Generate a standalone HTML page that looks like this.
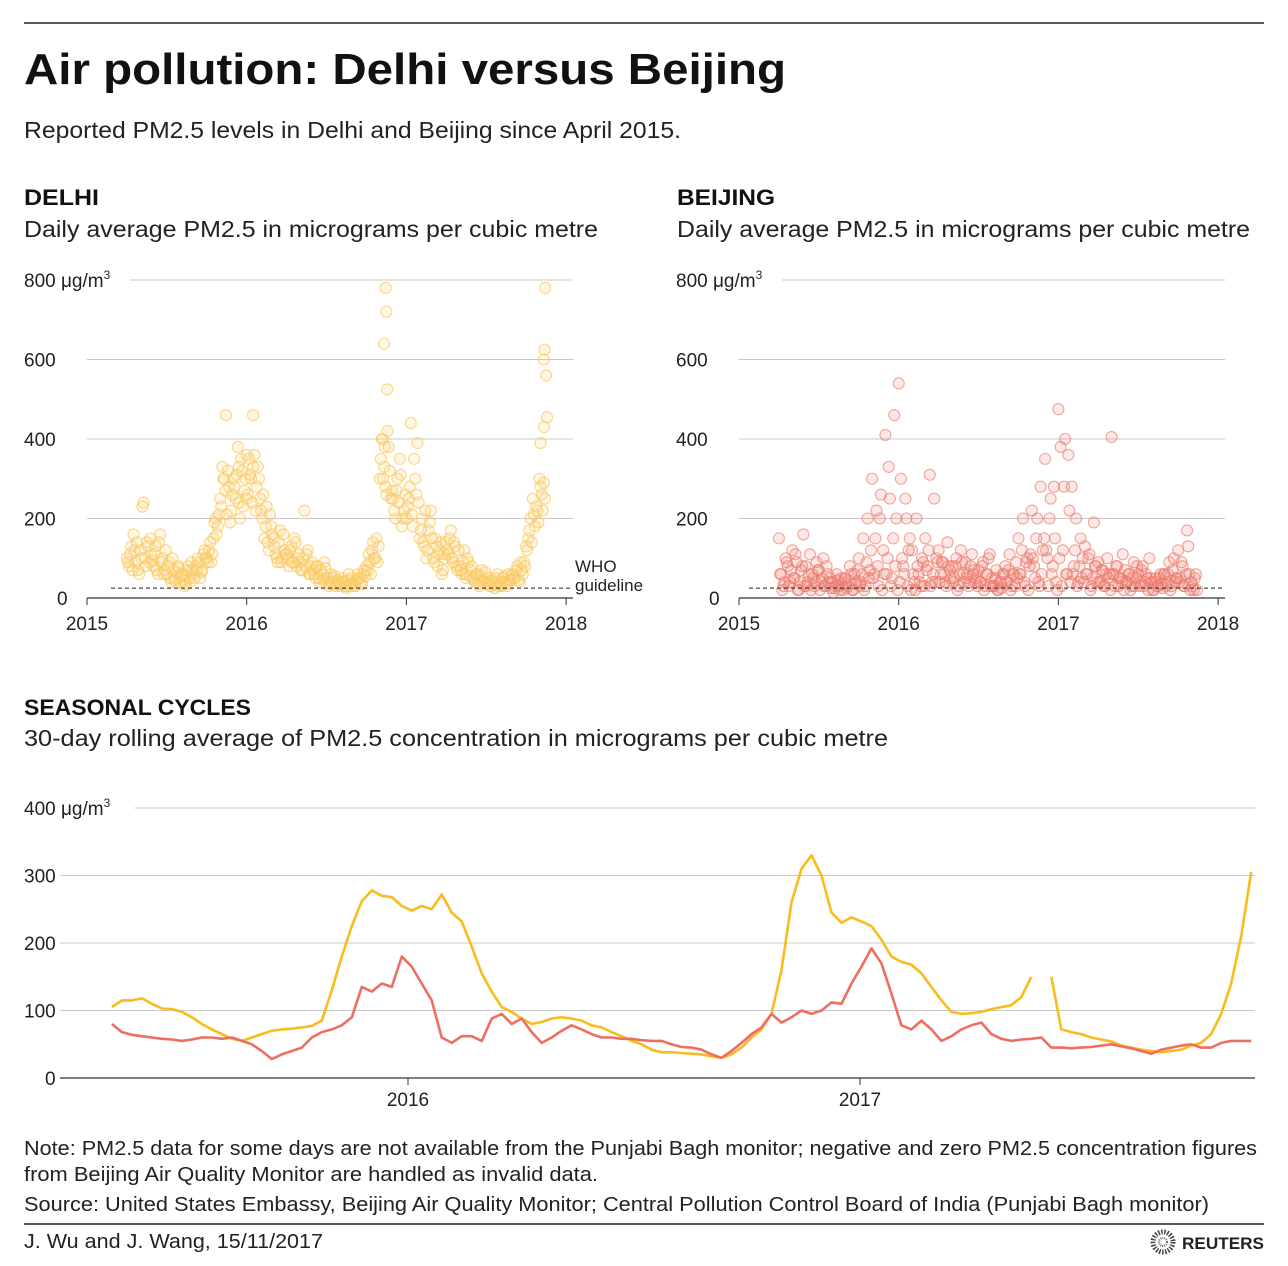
<!DOCTYPE html>
<html><head><meta charset="utf-8"><style>
html,body{margin:0;padding:0;background:#fff}
svg{display:block;font-family:"Liberation Sans",sans-serif}
</style></head><body>
<svg id="page" width="1288" height="1266" viewBox="0 0 1288 1266" xmlns="http://www.w3.org/2000/svg">
<line x1="24" y1="23" x2="1264" y2="23" stroke="#222" stroke-width="1.5"/>
<text x="24" y="84" font-size="44" font-weight="bold" fill="#111" textLength="762" lengthAdjust="spacingAndGlyphs">Air pollution: Delhi versus Beijing</text>
<text x="24" y="138" font-size="23" fill="#222" textLength="657" lengthAdjust="spacingAndGlyphs">Reported PM2.5 levels in Delhi and Beijing since April 2015.</text>

<text x="24" y="205" font-size="22" font-weight="bold" fill="#111" textLength="75" lengthAdjust="spacingAndGlyphs">DELHI</text>
<text x="24" y="237" font-size="23" fill="#222" textLength="574" lengthAdjust="spacingAndGlyphs">Daily average PM2.5 in micrograms per cubic metre</text>
<text x="677" y="205" font-size="22" font-weight="bold" fill="#111" textLength="98" lengthAdjust="spacingAndGlyphs">BEIJING</text>
<text x="677" y="237" font-size="23" fill="#222" textLength="573" lengthAdjust="spacingAndGlyphs">Daily average PM2.5 in micrograms per cubic metre</text>

<g id="delhi"></g>
<g id="beijing"></g>

<text x="24" y="715" font-size="22" font-weight="bold" fill="#111" textLength="227" lengthAdjust="spacingAndGlyphs">SEASONAL CYCLES</text>
<text x="24" y="746" font-size="23" fill="#222" textLength="864" lengthAdjust="spacingAndGlyphs">30-day rolling average of PM2.5 concentration in micrograms per cubic metre</text>
<g id="seasonal"></g>

<text x="24" y="1155" font-size="20" fill="#222" textLength="1233" lengthAdjust="spacingAndGlyphs">Note: PM2.5 data for some days are not available from the Punjabi Bagh monitor; negative and zero PM2.5 concentration figures</text>
<text x="24" y="1181" font-size="20" fill="#222" textLength="574" lengthAdjust="spacingAndGlyphs">from Beijing Air Quality Monitor are handled as invalid data.</text>
<text x="24" y="1211" font-size="20" fill="#222" textLength="1185" lengthAdjust="spacingAndGlyphs">Source: United States Embassy, Beijing Air Quality Monitor; Central Pollution Control Board of India (Punjabi Bagh monitor)</text>
<line x1="24" y1="1224" x2="1264" y2="1224" stroke="#222" stroke-width="1.5"/>
<text x="24" y="1248" font-size="20" fill="#222" textLength="299" lengthAdjust="spacingAndGlyphs">J. Wu and J. Wang,  15/11/2017</text>
<g>
<circle cx="1163" cy="1242" r="10" fill="none" stroke="#444" stroke-width="5" stroke-dasharray="1.5 1.5"/>
<circle cx="1163" cy="1242" r="4" fill="none" stroke="#666" stroke-width="2" stroke-dasharray="1 1"/>
<text x="1182" y="1249" font-size="17" font-weight="bold" fill="#222" textLength="82" lengthAdjust="spacingAndGlyphs">REUTERS</text>
</g>

<script>
// ---------- DATA ----------
const scatterStartYear = 2015.25;   // 1 April 2015
const samplesPerYear = 72;          // ~every 5 days
const delhiDaily = [
100,80,130,160,90,70, 120,230,100,140,90,110, 80,130,60,160,100,70, 60,90,40,70,50,80,
40,60,30,70,50,90, 60,80,100,50,70,120, 100,120,90,150,200,180, 250,330,300,210,280,220,
300,250,380,200,320,270, 250,350,300,330,220,330, 250,200,150,230,120,180, 150,110,90,170,100,120,
110,80,130,90,140,100, 90,70,220,110,60,80, 70,50,80,40,60,90, 40,30,60,50,30,45,
30,50,40,25,60,35, 40,30,60,50,35,70, 80,110,60,140,100,90, 300,400,330,260,380,250,
250,200,300,350,180,220, 200,250,440,180,300,390, 150,200,130,100,170,220, 100,150,80,120,60,110,
140,110,170,90,130,70, 80,60,120,50,90,70, 50,40,60,30,70,45, 35,50,30,40,25,60,
40,30,55,35,60,45, 60,50,80,40,70,90, 130,150,200,250,180,220, 300,260,290
];
const delhiDaily2 = [
90,110,70,120,140,60, 100,240,80,130,150,95, 110,70,140,90,60,120, 80,50,100,45,65,75,
55,45,35,80,40,70, 50,70,90,65,110,100, 90,140,110,190,160,210, 230,300,270,320,190,260,
280,310,240,350,230,300, 260,310,240,360,280,300, 220,260,180,140,210,160, 130,100,140,90,160,110,
100,120,90,150,80,110, 70,100,80,120,60,90, 60,80,50,70,45,75, 50,35,40,55,35,40,
35,40,30,45,30,50, 30,45,50,40,60,55, 70,90,120,100,150,130, 350,300,280,420,320,270,
220,270,240,310,200,260, 230,280,210,350,260,240, 170,140,220,120,190,150, 90,130,110,140,70,100,
120,150,100,140,80,120, 70,90,60,100,55,80, 45,60,35,55,40,65, 40,30,45,35,50,30,
35,50,40,30,45,55, 50,70,45,90,60,80, 120,170,140,210,230,190, 280,220,250
];
const delhiExtraYears = [2016.87,2016.875,2016.86,2016.88,2016.85,2016.865,2017.87,2017.865,2017.86,2017.875,2017.88,2017.862,2017.84,2016.04,2015.87,2016.0,2015.95];
const delhiExtraValues = [780,720,640,525,400,380,780,625,600,560,455,430,390,460,460,360,330];
const beijingDaily = [
150,60,30,100,80,40, 120,50,90,20,70,160, 80,40,110,60,30,90, 70,40,100,30,60,50,
40,25,60,30,50,20, 50,30,80,20,60,40, 100,40,150,30,200,70, 300,60,220,30,260,120,
410,100,250,50,460,200, 540,300,80,250,30,150, 120,40,200,60,30,90, 150,80,310,40,250,100,
120,60,90,40,140,70, 80,50,100,30,120,60, 90,60,40,110,70,50, 70,40,90,30,60,110,
50,30,70,20,40,60, 80,40,110,30,60,90, 150,60,200,30,100,80, 220,80,150,40,280,120,
350,100,200,60,280,40, 475,380,120,400,60,220, 280,80,200,40,150,100, 130,60,110,30,190,80,
90,40,70,30,100,60, 405,60,80,30,50,110, 70,40,60,30,90,50, 60,30,80,40,50,100,
40,20,50,30,60,25, 60,40,90,30,100,50, 120,50,80,30,170,60, 40,20,60
];
const beijingExtra = [
60,20,40,90,30,70, 50,110,20,40,80,30, 30,60,20,50,40,70, 20,50,30,80,40,25,
15,30,45,20,35,50, 25,45,60,20,35,70, 30,60,20,90,50,120, 50,150,80,200,20,60,
60,330,30,150,80,20, 40,100,60,200,120,20, 60,20,80,40,100,30, 70,120,30,60,40,90,
40,90,60,30,80,50, 40,80,20,60,90,40, 50,30,80,60,40,30, 40,80,20,60,100,30,
30,50,20,40,25,60, 40,70,20,60,30,50, 60,120,40,90,20,110, 100,50,200,30,60,150,
120,30,250,80,150,20, 100,30,280,60,360,40, 60,120,30,80,50,40, 60,100,20,50,80,40,
40,70,30,60,50,20, 60,30,80,50,40,20, 40,60,20,50,30,80, 40,70,30,60,20,50,
20,40,30,50,35,60, 30,60,20,70,40,50, 40,90,30,60,130,20, 30,50,20
];
const rollStartYear = 2015.345;
const rollStepYears = 8.07/365;
const delhiRolling = [105,115,115,118,110,103,102,98,90,80,72,65,58,55,60,65,70,72,73,75,77,85,130,180,225,262,278,270,268,255,248,255,250,272,245,232,195,155,128,105,98,88,80,83,88,90,88,85,78,75,68,62,55,50,42,38,38,37,36,35,32,30,35,45,60,72,95,160,260,310,330,300,245,230,238,232,225,205,180,172,168,155,135,115,98,95,96,98,102,105,108,120,150,null,150,72,68,65,60,57,54,48,45,42,40,38,40,42,48,52,65,95,140,210,305];
const beijingRolling = [80,68,64,62,60,58,57,55,57,60,60,58,60,55,50,40,28,35,40,45,60,68,72,78,90,135,128,140,135,180,165,140,115,60,52,62,62,55,88,95,80,88,68,52,60,70,78,72,65,60,60,58,58,56,55,55,50,46,45,42,35,30,40,52,65,75,95,82,90,100,95,100,112,110,140,165,192,170,125,78,72,85,72,55,62,72,78,82,65,58,55,57,58,60,45,45,44,45,46,48,50,47,44,40,36,42,45,48,50,45,45,52,55,55,55];
const scatterYTicks = [0,200,400,600,800];
const scatterXTicks = [2015,2016,2017,2018];
const seasonalYTicks = [0,100,200,300,400];
const seasonalXTicks = [2016,2017];
const whoGuideline = 25;

// ---------- DRAWING ----------
const NS = 'http://www.w3.org/2000/svg';
function mk(tag, attrs, parent, text){
  const e = document.createElementNS(NS, tag);
  for (const k in attrs) e.setAttribute(k, attrs[k]);
  if (text !== undefined) e.textContent = text;
  parent.appendChild(e); return e;
}

function scatterChart(g, x0, values, extraYears, extraValues, stroke, fill, showWho, extraVals2){
  const xs = t => x0 + (t - 2015) * 159.7;
  const ys = v => 598 - v * 0.3975;
  scatterYTicks.forEach(v => {
    const gl = mk('line', {x1: v===800 ? x0+43 : x0, x2: x0+486, y1: ys(v), y2: ys(v), stroke: v===0 ? '#333' : '#c8c8c8', 'stroke-width': v===0 ? 1.3 : 1}, g);
    
    
    const lab = v===800 ? '800 μg/m' : String(v);
    const tx = v===0 ? x0-30 : x0-63;
    const t = mk('text', {x: tx, y: ys(v)+7, 'font-size': 19, fill: '#222'}, g, lab);
    if (v===800){ mk('tspan', {dy: -8, 'font-size': 12}, t, '3'); }
    
    
  });
  scatterXTicks.forEach(yr => {
    const tk = mk('line', {x1: xs(yr), x2: xs(yr), y1: 598, y2: 605, stroke: '#333'}, g);
    
    
    const t = mk('text', {x: xs(yr), y: 630, 'font-size': 19, fill: '#222', 'text-anchor': 'middle'}, g, String(yr));
    
    
  });
  const draw = (t, v) => {
    const c = mk('circle', {cx: xs(t), cy: ys(v), r: 5.5, fill: fill, stroke: stroke, 'stroke-width': 1.1}, g);
    
    
  };
  values.forEach((v, i) => draw(scatterStartYear + i / samplesPerYear, v));
  if (extraVals2) extraVals2.forEach((v, i) => draw(scatterStartYear + (i + 0.5) / samplesPerYear, v));
  extraYears.forEach((t, i) => draw(t, extraValues[i]));
  const who = mk('line', {x1: showWho ? x0+24 : x0+10, x2: x0+483, y1: ys(whoGuideline), y2: ys(whoGuideline), stroke: '#222', 'stroke-dasharray': '4 3'}, g);
  
  
  if (showWho){
    const a = mk('text', {x: x0+488, y: 572, 'font-size': 17, fill: '#222'}, g, 'WHO');
    
    
    const b = mk('text', {x: x0+488, y: 591, 'font-size': 17, fill: '#222'}, g, 'guideline');
    
    
  }
}

scatterChart(document.getElementById('delhi'), 87, delhiDaily, delhiExtraYears, delhiExtraValues, 'rgba(250,200,90,0.7)', 'rgba(253,215,130,0.22)', true, delhiDaily2);
scatterChart(document.getElementById('beijing'), 739, beijingDaily, [], [], 'rgba(238,120,105,0.65)', 'rgba(240,130,115,0.18)', false, beijingExtra);

// seasonal
(function(){
  const g = document.getElementById('seasonal');
  const xs = t => 408 + (t - 2016) * 452;
  const ys = v => 1078 - v * 0.675;
  seasonalYTicks.forEach(v => {
    const gl = mk('line', {x1: v===400 ? 135 : 60, x2: 1255, y1: ys(v), y2: ys(v), stroke: v===0 ? '#333' : '#c8c8c8', 'stroke-width': v===0 ? 1.3 : 1}, g);
    
    
    const t = mk('text', {x: v===0 ? 45 : 24, y: ys(v)+7, 'font-size': 19, fill: '#222'}, g, v===400 ? '400 μg/m' : String(v));
    if (v===400) mk('tspan', {dy: -8, 'font-size': 12}, t, '3');
    
    
  });
  seasonalXTicks.forEach(yr => {
    const tk = mk('line', {x1: xs(yr), x2: xs(yr), y1: 1078, y2: 1085, stroke: '#333'}, g);
    
    
    const t = mk('text', {x: xs(yr), y: 1106, 'font-size': 19, fill: '#222', 'text-anchor': 'middle'}, g, String(yr));
    
    
  });
  function line(vals, color, name){
    let d = '', pen = false;
    vals.forEach((v, i) => {
      if (v === null){ pen = false; return; }
      const x = xs(rollStartYear + i * rollStepYears), y = ys(v);
      d += (pen ? 'L' : 'M') + x.toFixed(1) + ' ' + y.toFixed(1);
      pen = true;
    });
    const p = mk('path', {d: d, fill: 'none', stroke: color, 'stroke-width': 2.6, 'stroke-linejoin': 'round'}, g);
    
    
  }
  line(delhiRolling, '#f9bc1c', 'delhi-rolling-line');
  line(beijingRolling, '#ee6f62', 'beijing-rolling-line');
})();
</script>
</svg>
</body></html>
